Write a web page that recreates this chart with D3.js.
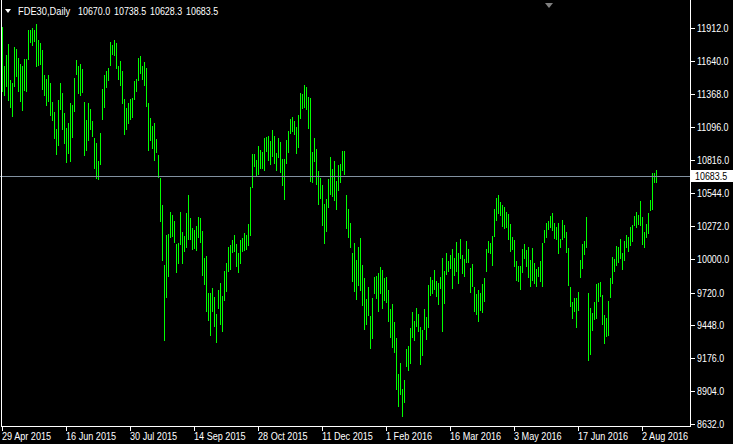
<!DOCTYPE html>
<html><head><meta charset="utf-8">
<script src="https://cdnjs.cloudflare.com/ajax/libs/d3/7.8.5/d3.min.js"></script>
<style>
html,body{margin:0;padding:0;background:#000;}
svg{display:block;}
text{font-family:"Liberation Sans",Arial,sans-serif;font-size:10px;fill:#fff;}
</style></head>
<body>
<script>
const symbolTitle = "FDE30,Daily";
const ohlcLast = ["10670.0", "10738.5", "10628.3", "10683.5"];
const lastClose = 10683.5;
const priceTicks = [11912, 11640, 11368, 11096, 10816, 10544, 10272, 10000, 9720, 9448, 9176, 8904, 8632];
const dateLabels = ["29 Apr 2015","16 Jun 2015","30 Jul 2015","14 Sep 2015","28 Oct 2015","11 Dec 2015","1 Feb 2016","16 Mar 2016","3 May 2016","17 Jun 2016","2 Aug 2016"];
const dateLabelBars = [0,32,64,96,128,160,192,224,256,288,320];

const highs = [
11918,11598,11689,11777,11482,11454,11755,11738,11664,11614,
11598,11656,11656,11896,11896,11910,11896,11945,11813,11788,
11730,11523,11490,11523,11457,11297,11219,11076,11316,11457,
11374,11208,11084,11125,11291,11275,11498,11647,11598,11614,
11573,11299,11150,11291,11241,11142,11001,10960,10811,11043,
11407,11523,11556,11581,11796,11772,11813,11788,11598,11639,
11556,11324,11250,11291,11324,11332,11473,11490,11664,11680,
11598,11631,11581,11291,11170,11101,11125,10993,10860,10670,
10446,9949,10198,10206,10388,10363,10314,10123,10131,10388,
10223,10189,10380,10529,10339,10256,10239,10272,10347,10339,
10231,10007,10024,9717,9717,9759,9684,9543,9742,9800,
9692,9900,9966,10098,10115,10156,10198,10123,10049,10156,
10173,10214,10198,10289,10595,10869,10869,10819,10935,10902,
10885,11001,11010,11018,10976,11067,11018,10877,11001,10968,
10827,10827,10985,11059,11159,11175,11142,11092,11192,11374,
11366,11440,11424,11341,11332,10885,11001,10910,10728,10670,
10612,10455,10496,10662,10844,10744,10811,10645,10778,10786,
10893,10893,10529,10413,10297,10049,10131,9991,10098,10173,
9949,9841,9668,9767,9527,9676,9850,9858,9883,9933,
9908,9841,9850,9742,9585,9626,9477,9345,9046,9137,
8922,8997,9253,9278,9427,9560,9485,9593,9543,9436,
9411,9585,9518,9784,9850,9825,9908,9817,9800,9850,
10007,9900,10049,9982,10032,10082,10007,10140,10049,10165,
10032,9999,10148,10082,9924,9958,9767,9709,9742,9717,
9792,9841,10082,10148,10131,10189,10413,10504,10529,10471,
10446,10430,10388,10372,10289,10181,10156,9982,9941,9941,
10082,10123,10073,10098,9991,10090,9966,9916,9933,9982,
10131,10239,10297,10314,10355,10380,10297,10264,10297,10165,
10322,10281,10223,10090,9767,9643,9676,9676,9726,9991,
10123,10148,10347,9717,9593,9552,9643,9792,9800,9808,
9701,9535,9510,9651,9841,10015,9999,10107,10098,10165,
10049,10148,10198,10181,10264,10281,10355,10388,10363,10479,
10347,10223,10289,10380,10488,10711,10711,10738.5
];
const lows = [
11385,11352,11426,11310,11252,11178,11426,11506,11385,11302,
11228,11393,11385,11650,11791,11766,11799,11592,11600,11609,
11402,11352,11269,11302,11186,11145,10996,10863,10938,11233,
11070,10954,10797,10871,10805,11004,11219,11523,11368,11352,
11377,10855,10896,10979,11070,11012,10747,10664,10656,10780,
11153,11252,11418,11476,11600,11691,11683,11575,11484,11435,
11286,11029,11070,11120,11153,11170,11319,11385,11476,11531,
11484,11435,11261,10896,10979,10913,10813,10880,10673,10308,
9985,9322,9679,9853,10170,10184,10134,9886,9960,10118,
9960,10060,10093,10159,10159,10076,10084,10068,10176,10134,
9861,9786,9563,9488,9364,9563,9438,9306,9588,9455,
9397,9654,9728,9894,9911,10051,10060,9935,9886,9960,
10060,10068,10076,10109,10192,10590,10764,10689,10697,10747,
10747,10731,10888,10813,10780,10847,10789,10731,10838,10714,
10606,10490,10789,10880,11037,11054,11029,10871,10921,11161,
11244,11252,11236,11078,10640,10631,10805,10615,10449,10499,
10275,10126,10225,10424,10532,10515,10482,10408,10565,10631,
10731,10697,10250,10176,10093,9811,9728,9662,9778,9737,
9612,9414,9455,9530,9256,9339,9712,9670,9563,9712,
9588,9654,9637,9480,9347,9264,9223,8917,8776,8875,
8693,8809,9107,9074,9132,9347,9322,9438,9397,9124,
9198,9414,9331,9430,9695,9712,9745,9687,9621,9753,
9397,9629,9869,9894,9919,9753,9861,9894,9795,10002,
9878,9853,9969,9969,9720,9770,9563,9538,9480,9571,
9554,9645,9894,10051,10043,9944,10184,10316,10374,10358,
10267,10250,10258,10159,10060,10076,9935,9819,9811,9745,
9886,10002,9935,9844,9770,9819,9795,9770,9853,9811,
9770,10134,10176,10242,10258,10234,10167,10159,10043,10093,
10159,10176,10051,9778,9604,9505,9563,9430,9571,9844,
9919,10035,10093,9157,9206,9405,9496,9505,9645,9687,
9455,9298,9356,9364,9679,9795,9894,9944,9969,10002,
9911,9985,10093,10060,10109,10142,10275,10258,10281,10272,
10118,10093,10176,10209,10399,10405,10631,10628.3
];

const W = 733, H = 444;
const plotRight = 690, plotBottom = 426;
const n = highs.length;

const svg = d3.select("body").append("svg").attr("width", W).attr("height", H);
svg.append("rect").attr("width", W).attr("height", H).attr("fill", "#000");

const x = d3.scaleLinear().domain([0, n - 1]).range([2, 2 + 2 * (n - 1)]);
const y = d3.scaleLinear().domain([8632, 11912]).range([424, 28]);

// narrow the font horizontally to mimic the terminal's compact face
function squeeze(sel, f) {
  sel.each(function () {
    const w = this.getComputedTextLength();
    d3.select(this).attr("textLength", (w * f).toFixed(1)).attr("lengthAdjust", "spacingAndGlyphs");
  });
  return sel;
}

// bars
const bars = svg.append("g").attr("shape-rendering", "crispEdges");
bars.selectAll("rect").data(d3.range(n)).join("rect")
  .attr("x", i => Math.round(x(i)))
  .attr("width", 1)
  .attr("y", i => Math.round(y(highs[i])))
  .attr("height", i => Math.max(1, Math.round(y(lows[i])) - Math.round(y(highs[i]))))
  .attr("fill", "#00ff00");

// bid line
const yl = Math.round(y(lastClose));
svg.append("rect").attr("x", 0).attr("y", yl).attr("width", plotRight).attr("height", 1).attr("fill", "#8291a0");

// frame
svg.append("rect").attr("x", 1).attr("y", 0).attr("width", 1).attr("height", plotBottom).attr("fill", "#fff");
svg.append("rect").attr("x", plotRight).attr("y", 0).attr("width", 1).attr("height", plotBottom + 1).attr("fill", "#fff");
svg.append("rect").attr("x", 1).attr("y", plotBottom).attr("width", plotRight).attr("height", 1).attr("fill", "#fff");

// price axis
const pa = svg.append("g");
priceTicks.forEach(v => {
  const yy = Math.round(y(v));
  pa.append("rect").attr("x", plotRight + 1).attr("y", yy).attr("width", 4).attr("height", 1).attr("fill", "#fff");
  squeeze(pa.append("text").attr("x", 697).attr("y", yy + 4).text(d3.format(".1f")(v)), 0.89);
});
// last price box
svg.append("rect").attr("x", 691).attr("y", yl - 6).attr("width", 42).attr("height", 12).attr("fill", "#fff");
squeeze(svg.append("text").attr("x", 695).attr("y", yl + 4).style("fill", "#000").text(d3.format(".1f")(lastClose)), 0.89);

// date axis
dateLabelBars.forEach((b, k) => {
  const xx = Math.round(x(b));
  svg.append("rect").attr("x", xx).attr("y", plotBottom + 1).attr("width", 1).attr("height", 4).attr("fill", "#fff");
  squeeze(svg.append("text").attr("x", xx).attr("y", 440).text(dateLabels[k]), 0.91);
});

// header
svg.append("path").attr("d", "M5,9 L11,9 L8,13 Z").attr("fill", "#fff");
squeeze(svg.append("text").attr("x", 18).attr("y", 15).text(symbolTitle), 0.93);
ohlcLast.forEach((s, k) => {
  squeeze(svg.append("text").attr("x", 78 + k * 36).attr("y", 15).text(s), 0.89);
});
// shift marker
svg.append("path").attr("d", "M545,3 L553,3 L549,8 Z").attr("fill", "#808080");
</script>
</body></html>
